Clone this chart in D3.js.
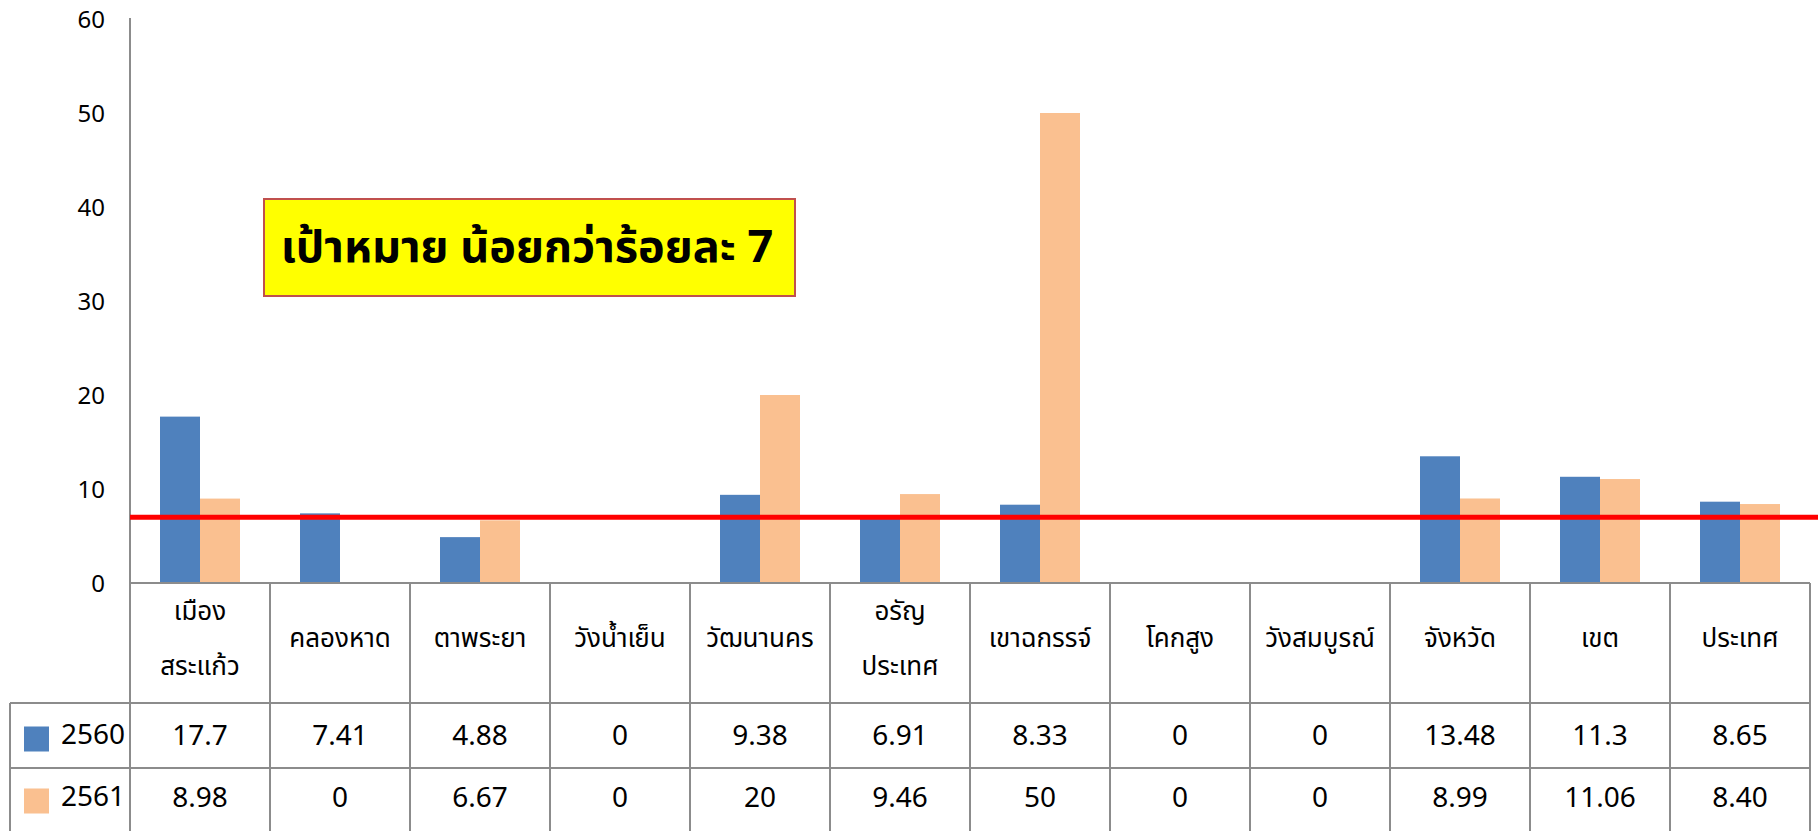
<!DOCTYPE html>
<html>
<head>
<meta charset="utf-8">
<script src="https://cdn.jsdelivr.net/npm/d3@7"></script>
<style>
  body { margin: 0; background: #fff; }
  svg text { font-family: "Noto Sans Thai", "Noto Sans", "DejaVu Sans", sans-serif; fill: #000; }
</style>
</head>
<body>
<svg id="chart_svg" width="1818" height="831"></svg>
<script>
// data
var categories = [["เมือง", "สระแก้ว"], ["คลองหาด"], ["ตาพระยา"], ["วังน้ำเย็น"], ["วัฒนานคร"],
    ["อรัญ", "ประเทศ"], ["เขาฉกรรจ์"], ["โคกสูง"], ["วังสมบูรณ์"], ["จังหวัด"], ["เขต"], ["ประเทศ"]];
var series_names = ["2560", "2561"];
var values_2560 = [17.7, 7.41, 4.88, 0, 9.38, 6.91, 8.33, 0, 0, 13.48, 11.3, 8.65];
var values_2561 = [8.98, 0, 6.67, 0, 20, 9.46, 50, 0, 0, 8.99, 11.06, 8.40];
var labels_2560 = ["17.7", "7.41", "4.88", "0", "9.38", "6.91", "8.33", "0", "0", "13.48", "11.3", "8.65"];
var labels_2561 = ["8.98", "0", "6.67", "0", "20", "9.46", "50", "0", "0", "8.99", "11.06", "8.40"];
var y_ticks = [0, 10, 20, 30, 40, 50, 60];
var target = 7;
var target_text = "เป้าหมาย น้อยกว่าร้อยละ 7";

var colors = ["#4f81bd", "#fac090"];
var grid_color = "#8c8c8c";

draw_chart();

function draw_chart() {
    var svg = d3.select("#chart_svg");
    var left = 130, right = 1810, top = 19, bottom = 583;
    var row_h = [583, 703, 768, 833]; // table row edges

    // scales
    var x = d3.scaleBand().domain(d3.range(categories.length)).range([left, right]);
    var xs = d3.scaleBand().domain(series_names).range([0, x.bandwidth()]).paddingInner(0).paddingOuter(0.75);
    var y = d3.scaleLinear().domain([0, 60]).range([bottom, top]);

    // y axis
    var y_axis = svg.append("g").attr("transform", "translate(" + left + ",0)")
        .call(d3.axisLeft(y).tickValues(y_ticks).tickSize(0).tickPadding(25));
    y_axis.select(".domain").attr("d", "M0," + (top - 1) + "V" + bottom)
        .attr("stroke", grid_color).attr("stroke-width", 2);
    y_axis.selectAll("text").attr("font-size", 24).attr("dy", "0.35em")
        .style("font-family", "'Noto Sans', sans-serif");

    // bars
    var all_values = [values_2560, values_2561];
    all_values.forEach(function (vals, s) {
        svg.selectAll(".bar" + s).data(vals).join("rect").classed("bar" + s, true)
            .attr("x", (d, i) => x(i) + xs(series_names[s]))
            .attr("y", d => y(d))
            .attr("width", xs.bandwidth())
            .attr("height", d => y(0) - y(d))
            .attr("fill", colors[s]);
    });

    // table grid
    var g_table = svg.append("g").attr("stroke", grid_color).attr("stroke-width", 2);
    g_table.selectAll(".vline").data(d3.range(categories.length + 1)).join("line").classed("vline", true)
        .attr("x1", d => d < categories.length ? x(d) : right).attr("x2", d => d < categories.length ? x(d) : right)
        .attr("y1", row_h[0]).attr("y2", row_h[3]);
    g_table.append("line").attr("x1", left).attr("x2", right).attr("y1", row_h[0]).attr("y2", row_h[0]);
    g_table.selectAll(".hline").data([row_h[1], row_h[2]]).join("line").classed("hline", true)
        .attr("x1", 10).attr("x2", right).attr("y1", d => d).attr("y2", d => d);
    g_table.append("line").attr("x1", 10).attr("x2", 10).attr("y1", row_h[1]).attr("y2", row_h[3]);

    // category labels
    var cx = i => x(i) + x.bandwidth() / 2;
    var header_mid = (row_h[0] + row_h[1]) / 2;
    categories.forEach(function (lines, i) {
        svg.selectAll(".cat" + i).data(lines).join("text").classed("cat" + i, true)
            .attr("x", cx(i))
            .attr("y", (d, j) => header_mid - 5 + (j - (lines.length - 1) / 2) * 55)
            .attr("dy", "0.35em").attr("text-anchor", "middle").attr("font-size", 26)
            .text(d => d);
    });

    // value rows
    [labels_2560, labels_2561].forEach(function (labels, s) {
        var mid = (row_h[s + 1] + row_h[s + 2]) / 2 - (s == 1 ? 3 : 0);
        svg.selectAll(".val" + s).data(labels).join("text").classed("val" + s, true)
            .attr("x", (d, i) => cx(i)).attr("y", mid)
            .attr("dy", "0.35em").attr("text-anchor", "middle").attr("font-size", 28)
            .text(d => d);
        // legend key
        svg.append("rect").attr("x", 24).attr("y", mid - 9).attr("width", 25).attr("height", 25)
            .attr("fill", colors[s]);
        svg.append("text").attr("x", 61).attr("y", mid - 1).attr("dy", "0.35em")
            .attr("font-size", 28).text(series_names[s]);
    });

    // target line
    svg.append("line").attr("x1", left).attr("x2", 1818)
        .attr("y1", y(target)).attr("y2", y(target))
        .attr("stroke", "#ff0000").attr("stroke-width", 5);

    // target box
    svg.append("rect").attr("x", 264).attr("y", 199).attr("width", 531).attr("height", 97)
        .attr("fill", "#ffff00").attr("stroke", "#c0504d").attr("stroke-width", 2);
    svg.append("text").attr("x", 527).attr("y", 246).attr("dy", "0.35em")
        .attr("text-anchor", "middle").attr("font-size", 45).attr("font-weight", "bold")
        .text(target_text);
}
</script>
</body>
</html>
